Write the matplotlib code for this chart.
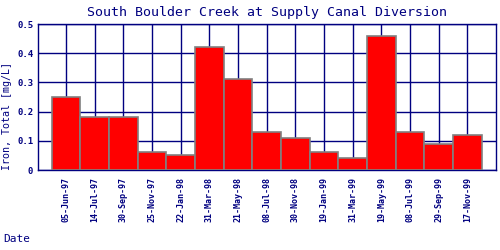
import matplotlib
matplotlib.use("Agg")
import matplotlib.pyplot as plt

# sample dates and total iron values
dates = ["05-Jun-97", "14-Jul-97", "30-Sep-97", "25-Nov-97", "22-Jan-98",
         "31-Mar-98", "21-May-98", "08-Jul-98", "30-Nov-98", "19-Jan-99",
         "31-Mar-99", "19-May-99", "08-Jul-99", "29-Sep-99", "17-Nov-99"]
iron = [0.25, 0.18, 0.18, 0.06, 0.05, 0.42, 0.31, 0.13, 0.11, 0.06,
        0.04, 0.46, 0.13, 0.09, 0.12]
yticks = [0, 0.1, 0.2, 0.3, 0.4, 0.5]
ytick_labels = ["0", "0.1", "0.2", "0.3", "0.4", "0.5"]

navy = "#000080"
plt.rcParams["font.family"] = "DejaVu Sans Mono"

fig = plt.figure(figsize=(5, 2.5), dpi=100)
ax = fig.add_axes([0.075, 0.32, 0.917, 0.584])

x = list(range(len(dates)))
ax.bar(x, iron, width=1.0, color="red", edgecolor="#808080", linewidth=1.2, zorder=3)

ax.set_xlim(-1, len(dates))
ax.set_ylim(0, 0.5)
ax.set_xticks(x)
ax.set_xticklabels(dates, rotation=90, fontsize=6, color=navy, fontweight="bold")
ax.set_yticks(yticks)
ax.set_yticklabels(ytick_labels, fontsize=6.5, color=navy, fontweight="bold")
ax.tick_params(length=0, pad=3)
ax.tick_params(axis="x", pad=5)
ax.grid(True, color=navy, linewidth=1, zorder=0)
for s in ax.spines.values():
    s.set_color(navy)
    s.set_linewidth(1)

ax.set_title("South Boulder Creek at Supply Canal Diversion", fontsize=9.5, color=navy, pad=6)
fig.text(0.014, 0.536, "Iron, Total [mg/L]", fontsize=7.2, color=navy,
         rotation=90, ha="center", va="center")
fig.text(0.006, 0.03, "Date", fontsize=8, color=navy)

fig.savefig("out.png", dpi=100)
